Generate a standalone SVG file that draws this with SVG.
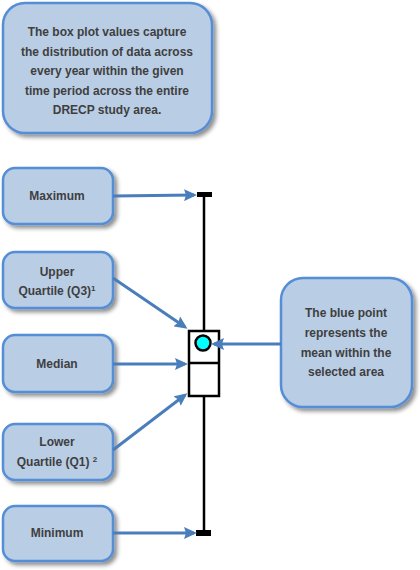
<svg xmlns="http://www.w3.org/2000/svg" width="420" height="570" viewBox="0 0 420 570">
<defs>
<filter id="sh" x="-10%" y="-10%" width="130%" height="130%">
<feGaussianBlur in="SourceAlpha" stdDeviation="2"/>
<feOffset dx="3" dy="3" result="b"/>
<feComponentTransfer><feFuncA type="linear" slope="0.45"/></feComponentTransfer>
<feMerge><feMergeNode/><feMergeNode in="SourceGraphic"/></feMerge>
</filter>
<marker id="ah" markerWidth="13" markerHeight="12" refX="10" refY="6" orient="auto" markerUnits="userSpaceOnUse" viewBox="0 0 13 12">
<path d="M0,0 L13,6 L0,12 L2,6 Z" fill="#4a7ebb"/>
</marker>
<style>
.box{fill:#b9cde5;stroke:#558ed5;stroke-width:2.5;filter:url(#sh)}
.t{font-family:"Liberation Sans",Arial,sans-serif;font-weight:bold;font-size:12px;fill:#3f3f3f;text-anchor:middle}
.c{stroke:#4a7ebb;stroke-width:3;fill:none;marker-end:url(#ah)}
</style>
</defs>
<g id="note-top">
<rect class="box" x="3" y="3" width="209" height="130" rx="22"/>
<text class="t" x="107" y="36">The box plot values capture</text>
<text class="t" x="107" y="56">the distribution of data across</text>
<text class="t" x="107" y="75">every year within the given</text>
<text class="t" x="107" y="95">time period across the entire</text>
<text class="t" x="107" y="114">DRECP study area.</text>
</g>
<g id="maximum">
<rect class="box" x="3" y="168" width="110" height="56" rx="12"/>
<text class="t" x="57" y="200">Maximum</text>
</g>
<g id="upper-quartile">
<rect class="box" x="3" y="252" width="110" height="56" rx="12"/>
<text class="t" x="57" y="276">Upper</text>
<text class="t" x="57" y="295">Quartile (Q3)<tspan font-size="8" dy="-4">1</tspan></text>
</g>
<g id="median">
<rect class="box" x="3" y="335" width="110" height="57" rx="12"/>
<text class="t" x="57" y="368">Median</text>
</g>
<g id="lower-quartile">
<rect class="box" x="3" y="424" width="110" height="56" rx="12"/>
<text class="t" x="57" y="446">Lower</text>
<text class="t" x="57" y="466">Quartile (Q1) <tspan font-size="8" dy="-4">2</tspan></text>
</g>
<g id="minimum">
<rect class="box" x="3" y="506" width="110" height="55" rx="12"/>
<text class="t" x="57" y="537">Minimum</text>
</g>
<g id="mean-note">
<rect class="box" x="281" y="278" width="131" height="129" rx="22"/>
<text class="t" x="346" y="317">The blue point</text>
<text class="t" x="346" y="337">represents the</text>
<text class="t" x="346" y="357">mean within the</text>
<text class="t" x="346" y="376">selected area</text>
</g>
<g id="boxplot">
<line x1="204" y1="194" x2="204" y2="331" stroke="#000" stroke-width="2.5"/>
<line x1="204" y1="396" x2="204" y2="533" stroke="#000" stroke-width="2.5"/>
<rect x="197" y="192" width="15" height="5" fill="#000"/>
<rect x="196" y="530" width="15" height="6" fill="#000"/>
<rect x="189" y="331" width="30" height="65" fill="#fff" stroke="#000" stroke-width="2.5"/>
<line x1="189" y1="363" x2="219" y2="363" stroke="#000" stroke-width="2.5"/>
<circle cx="203" cy="343" r="7.5" fill="#00ffff" stroke="#000" stroke-width="2.5"/>
</g>
<g id="connectors">
<line class="c" x1="113" y1="196" x2="194" y2="195"/>
<line class="c" x1="113" y1="278" x2="185" y2="327"/>
<line class="c" x1="113" y1="364" x2="185" y2="364"/>
<line class="c" x1="113" y1="450" x2="185" y2="395"/>
<line class="c" x1="113" y1="533" x2="194" y2="533"/>
<line class="c" x1="281" y1="344" x2="214" y2="344"/>
</g>
</svg>
